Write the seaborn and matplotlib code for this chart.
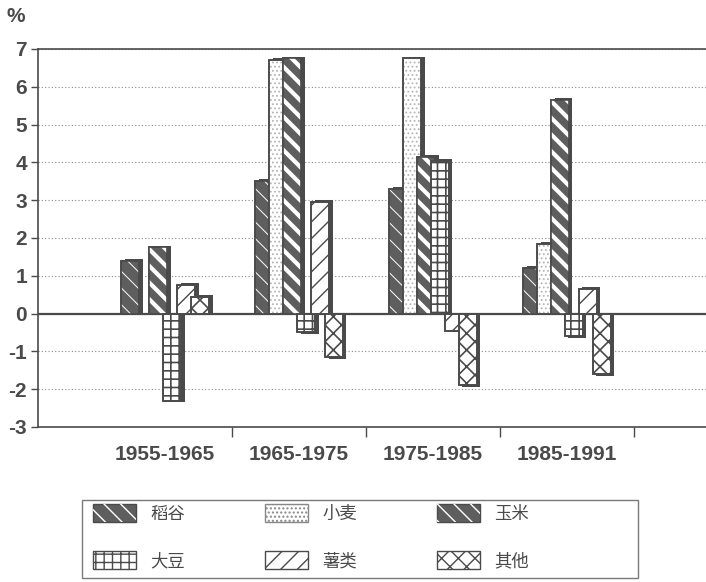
import numpy as np
import pandas as pd
import matplotlib
matplotlib.use("Agg")
import matplotlib.pyplot as plt
import seaborn as sns
from matplotlib.patches import Patch, Rectangle

# data (annual growth, %)
periods = ["1955-1965", "1965-1975", "1975-1985", "1985-1991"]
crops = ["稻谷", "小麦", "玉米", "大豆", "薯类", "其他"]
rice = [1.4, 3.5, 3.3, 1.2]
wheat = [0.0, 6.7, 6.75, 1.85]
maize = [1.75, 6.75, 4.15, 5.65]
soybean = [-2.3, -0.5, 4.05, -0.6]
tuber = [0.75, 2.95, -0.45, 0.65]
other = [0.45, -1.15, -1.9, -1.6]

series = [rice, wheat, maize, soybean, tuber, other]
rows = []
for crop, vals in zip(crops, series):
    for p, v in zip(periods, vals):
        rows.append({"period": p, "crop": crop, "value": v})
df = pd.DataFrame(rows)

DARK = "#5e5e5e"
EDGE = "#4a4a4a"
TEXT = "#4a4a4a"

# face colour, hatch, hatch colour, hatch linewidth
styles = {
    "稻谷": (DARK, "\\\\", "white", 0.7),
    "小麦": ("white", "....", "#b5b5b5", 0.8),
    "玉米": (DARK, "\\\\", "white", 3.0),
    "大豆": ("white", "++", EDGE, 1.2),
    "薯类": ("white", "//", EDGE, 1.0),
    "其他": ("white", "xx", EDGE, 1.2),
}


def set_hlw(patch, w):
    # per-patch hatch linewidth (newer matplotlib), fall back to the private field
    if hasattr(patch, "set_hatch_linewidth"):
        patch.set_hatch_linewidth(w)
    else:
        patch._hatch_linewidth = w
    return patch


sns.set_theme(style="white")
plt.rcParams["font.family"] = ["Liberation Sans", "Noto Sans CJK SC", "DejaVu Sans"]
plt.rcParams["axes.unicode_minus"] = False

fig = plt.figure(figsize=(7.06, 5.82), dpi=100)
ax = fig.add_axes([38 / 706, 1 - 427 / 582, 668 / 706, 378 / 582])

sns.barplot(
    data=df, x="period", y="value", hue="crop",
    order=periods, hue_order=crops,
    palette=[styles[c][0] for c in crops],
    width=0.625, saturation=1, errorbar=None, legend=False, ax=ax
)

bar_w = 0.134
dx = 0.028
for k, crop in enumerate(crops):
    face, hatch, hcol, hlw = styles[crop]
    z = 2 + k * 0.1
    for p in ax.containers[k]:
        cx = p.get_x() + p.get_width() / 2
        h = p.get_height()
        x0 = cx - bar_w / 2
        p.set_x(x0)
        p.set_width(bar_w)
        p.set_zorder(z + 0.01)
        p.set_edgecolor(EDGE)
        p.set_linewidth(1.2)
        if h == 0:
            p.set_visible(False)
            continue
        # shadow on the right side
        ax.add_patch(Rectangle((x0 + dx, 0), bar_w, h + (0.05 if h > 0 else -0.05),
                               facecolor=EDGE, edgecolor="none", zorder=z))
        ax.add_patch(set_hlw(Rectangle((x0, 0), bar_w, h, facecolor="none",
                                       edgecolor=hcol, lw=0, hatch=hatch,
                                       zorder=z + 0.02), hlw))
        ax.add_patch(Rectangle((x0, 0), bar_w, h, facecolor="none",
                               edgecolor=EDGE, lw=1.2, zorder=z + 0.03))

ax.axhline(0, color=EDGE, lw=1.6, zorder=1.5)
ax.set_axisbelow(True)
ax.yaxis.grid(True, linestyle=(0, (1, 2)), color="#8a8a8a", lw=0.8)
ax.xaxis.grid(False)

ax.set_xlim(-0.948, 4.04)
ax.set_ylim(-3, 7)
ax.set_yticks(range(-3, 8))
ax.set_xticks(range(len(periods)))
ax.set_xticklabels(periods)
ax.set_xticks([0.5, 1.5, 2.5, 3.5], minor=True)
ax.set_xlabel("")
ax.set_ylabel("")

ax.tick_params(axis="y", left=True, length=5, width=1, color=EDGE,
               labelsize=15, labelcolor=TEXT, pad=3)
ax.tick_params(axis="x", which="major", bottom=False, length=0, pad=13,
               labelsize=15, labelcolor=TEXT)
ax.tick_params(axis="x", which="minor", bottom=True, length=7, width=1,
               color=EDGE, direction="out")
for lab in ax.get_xticklabels() + ax.get_yticklabels():
    lab.set_fontweight("bold")

for side in ["left", "bottom", "top"]:
    ax.spines[side].set_color(EDGE)
    ax.spines[side].set_linewidth(1.2)
ax.spines["right"].set_visible(False)

fig.text(6 / 706, 1 - 16 / 582, "%", fontsize=15, fontweight="bold",
         color=TEXT, va="center", ha="left")

# legend, filled column by column so the rows read like the original
handles = {}
for crop in crops:
    face, hatch, hcol, hlw = styles[crop]
    if face == DARK:
        handles[crop] = (Patch(facecolor=DARK, edgecolor=EDGE, lw=1),
                         set_hlw(Patch(facecolor="none", edgecolor=hcol, lw=0,
                                       hatch=hatch), hlw))
    else:
        handles[crop] = set_hlw(Patch(facecolor="white",
                                      edgecolor=hcol if crop != "小麦" else "#888888",
                                      lw=1, hatch=hatch), hlw)
leg_order = ["稻谷", "大豆", "小麦", "薯类", "玉米", "其他"]
fig.legend(
    [handles[c] for c in leg_order], leg_order,
    ncol=3, loc="upper left", bbox_to_anchor=(79 / 706, 1 - 490 / 582),
    bbox_transform=fig.transFigure, frameon=False,
    handlelength=2.5, handleheight=1.2, handletextpad=0.8,
    columnspacing=4.6, labelspacing=1.65, borderpad=0.3,
    prop={"family": ["Noto Sans CJK SC"], "size": 12.5}, labelcolor=TEXT
)
fig.add_artist(Rectangle((82 / 706, 4 / 582), 556 / 706, 78 / 582,
                         transform=fig.transFigure, fill=False,
                         edgecolor="#7a7a7a", lw=1))

fig.savefig("out.png", dpi=100)
